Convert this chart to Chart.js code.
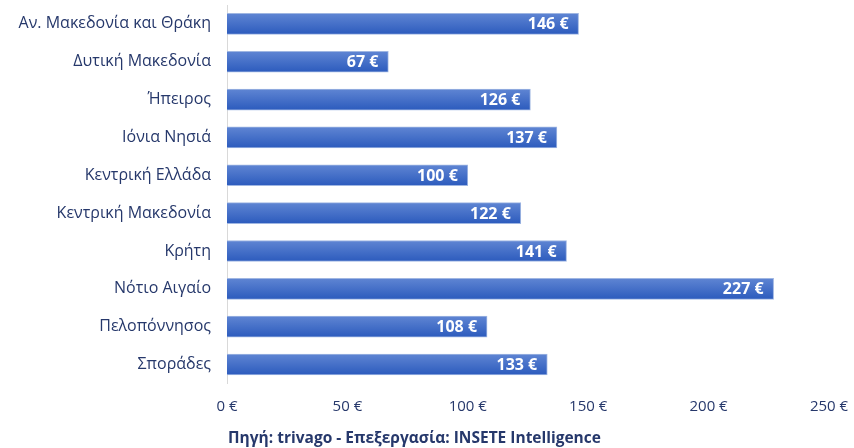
<!DOCTYPE html>
<html>
<head>
<meta charset="utf-8">
<script src="https://cdn.jsdelivr.net/npm/chart.js@4"></script>
<style>
  html, body { margin: 0; padding: 0; background: #fff; }
  #wrap { width: 854px; height: 448px; }
</style>
</head>
<body>
<div id="wrap"><canvas id="priceChart" width="854" height="448"></canvas></div>
<script>
// Average price per region (€)
const regions = [
    'Αν. Μακεδονία και Θράκη',
    'Δυτική Μακεδονία',
    'Ήπειρος',
    'Ιόνια Νησιά',
    'Κεντρική Ελλάδα',
    'Κεντρική Μακεδονία',
    'Κρήτη',
    'Νότιο Αιγαίο',
    'Πελοπόννησος',
    'Σποράδες'
];
const prices = [146, 67, 126, 137, 100, 122, 141, 227, 108, 133];
const sourceNote = 'Πηγή: trivago - Επεξεργασία: INSETE Intelligence';

const textColor = '#26386b';
const fontFamily = '"Open Sans", "Noto Sans", sans-serif';

// Draws the "146 €" labels inside the end of each bar
const barLabels = {
    id: 'barLabels',
    afterDatasetsDraw(chart) {
        const ctx = chart.ctx;
        const meta = chart.getDatasetMeta(0);
        ctx.save();
        ctx.fillStyle = '#ffffff';
        ctx.font = 'bold 16px ' + fontFamily;
        ctx.textAlign = 'right';
        ctx.textBaseline = 'middle';
        meta.data.forEach((bar, i) => {
            ctx.fillText(prices[i] + ' €', bar.x - 10, bar.y + 1);
        });
        ctx.restore();
    }
};

const ctx = document.getElementById('priceChart').getContext('2d');
new Chart(ctx, {
    type: 'bar',
    data: {
        labels: regions,
        datasets: [{
            data: prices,
            barThickness: 21,
            borderWidth: 1,
            borderColor: '#9fb6e2',
            borderSkipped: 'start',
            backgroundColor: (context) => {
                const chart = context.chart;
                const y = chart.scales && chart.scales.y;
                if (!y || context.dataIndex === undefined) return '#3a68c6';
                const cy = y.getPixelForValue(context.dataIndex);
                if (!isFinite(cy)) return '#3a68c6';
                const g = chart.ctx.createLinearGradient(0, cy - 10.5, 0, cy + 10.5);
                g.addColorStop(0, '#5f85d3');
                g.addColorStop(1, '#2c5bbd');
                return g;
            }
        }]
    },
    options: {
        responsive: false,
        animation: false,
        indexAxis: 'y',
        layout: { padding: { top: 5, right: 25, left: 0, bottom: 0 } },
        plugins: {
            legend: { display: false },
            tooltip: { enabled: false },
            title: {
                display: true,
                position: 'bottom',
                text: sourceNote,
                color: textColor,
                font: { family: fontFamily, size: 15.5, weight: 'bold' },
                padding: { top: 8, bottom: 0 }
            }
        },
        scales: {
            x: {
                min: 0,
                max: 250,
                grid: { display: false, drawTicks: false },
                border: { display: false },
                ticks: {
                    stepSize: 50,
                    padding: 14,
                    color: textColor,
                    font: { family: fontFamily, size: 15 },
                    callback: (v) => v + ' €'
                },
                afterFit: (s) => { s.height = 38; s.paddingLeft = 0; s.paddingRight = 0; }
            },
            y: {
                grid: { display: false, drawTicks: false },
                border: { display: true, color: '#d9d9d9', width: 1 },
                ticks: {
                    padding: 16,
                    color: textColor,
                    font: { family: fontFamily, size: 16 }
                },
                afterFit: (s) => { s.width = 227; s.paddingTop = 0; s.paddingBottom = 0; }
            }
        }
    },
    plugins: [barLabels]
});
</script>
</body>
</html>
